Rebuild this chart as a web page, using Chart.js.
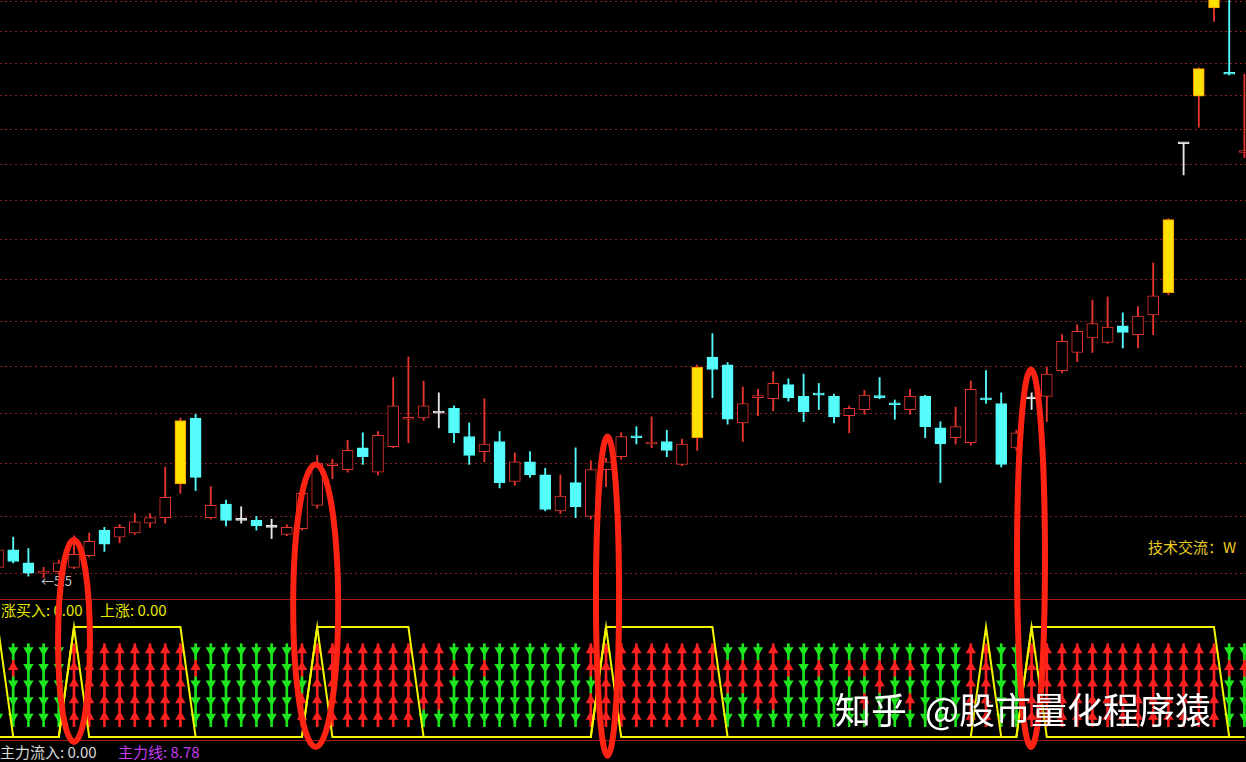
<!DOCTYPE html>
<html>
<head>
<meta charset="utf-8">
<script src="https://cdn.jsdelivr.net/npm/chart.js@4.4.1/dist/chart.umd.min.js"></script>
<style>
  html, body { margin: 0; padding: 0; background: #000; overflow: hidden; }
  #wrap { position: relative; width: 1246px; height: 762px; }
  #chartKline { position: absolute; left: 0; top: 0; z-index: 1; }
  .lbl { position: absolute; white-space: nowrap; font-family: "Noto Sans CJK SC", "Noto Sans", sans-serif;
         font-size: 15px; line-height: 15px; z-index: 0; }
  .mark { position: absolute; z-index: 2; color: #fff; white-space: nowrap;
          font-family: "Noto Sans CJK SC", sans-serif; font-size: 36px; line-height: 36px;
          text-shadow: 0 0 2px rgba(0,0,0,0.7); }
</style>
</head>
<body>
<div id="wrap">
  <div class="lbl" style="left:1px;top:602px;color:#e6e600">涨买入: 0.00</div>
  <div class="lbl" style="left:100px;top:602px;color:#e6e600">上涨: 0.00</div>
  <div class="lbl" style="left:0px;top:744px;color:#d8d8d8">主力流入: 0.00</div>
  <div class="lbl" style="left:118px;top:744px;color:#c63cf0">主力线: 8.78</div>
  <div class="lbl" style="left:1148px;top:539px;color:#e8cc22">技术交流：W</div>
  <div class="lbl" style="left:41px;top:573px;color:#bdbdbd;font-size:13px">←5.5</div>
  <canvas id="chartKline" width="1246" height="762"></canvas>
  <div class="mark" style="left:835px;top:690px">知乎</div>
  <div class="mark" style="left:925px;top:690px">@股市量化程序猿</div>
</div>
<script>
// daily prices, one entry per bar
const openPrice = [5.64,5.76,5.67,5.60,5.61,5.64,5.72,5.90,5.85,5.88,
    5.95,5.99,6.24,6.76,5.99,6.09,5.97,5.97,5.92,5.87,
    5.91,6.08,6.38,6.35,6.52,6.33,6.53,6.75,6.76,6.80,
    6.84,6.61,6.49,6.57,6.26,6.41,6.31,6.04,6.25,6.00,
    6.35,6.45,6.61,6.55,6.57,6.39,6.60,7.28,7.21,6.72,
    6.93,6.92,7.04,6.94,6.96,6.94,6.78,6.83,6.94,6.88,
    6.83,6.94,6.68,6.60,6.56,6.92,6.88,6.52,6.92,6.94,
    7.16,7.32,7.45,7.41,7.56,7.48,7.66,7.87,9.43,9.99,
    11.12,10.27,9.33];
const highPrice = [5.79,5.85,5.77,5.64,5.69,5.86,5.88,5.92,5.94,6.02,
    6.02,6.37,6.76,6.79,6.22,6.12,6.07,6.00,5.98,5.94,
    6.19,6.46,6.43,6.58,6.64,6.65,7.10,7.28,7.07,6.97,
    6.86,6.72,6.92,6.65,6.48,6.49,6.36,6.31,6.52,6.42,
    6.44,6.64,6.69,6.77,6.66,6.59,7.21,7.49,7.23,7.02,
    7.00,7.15,7.09,7.13,7.05,6.96,6.86,6.99,7.10,6.91,
    7.00,6.95,6.73,6.85,7.07,7.16,6.97,6.66,6.97,7.19,
    7.48,7.57,7.80,7.83,7.68,7.74,8.16,8.61,9.44,10.34,
    11.36,11.60,10.26];
const lowPrice = [5.62,5.67,5.58,5.57,5.59,5.63,5.71,5.75,5.81,5.87,
    5.92,5.95,6.17,6.19,5.98,5.93,5.95,5.90,5.84,5.86,
    5.90,6.06,6.28,6.33,6.39,6.31,6.52,6.56,6.74,6.68,
    6.56,6.39,6.41,6.21,6.23,6.29,6.04,6.02,5.99,5.98,
    6.22,6.43,6.55,6.52,6.45,6.38,6.50,6.93,6.71,6.57,
    6.78,6.82,6.90,6.73,6.83,6.72,6.64,6.79,6.92,6.75,
    6.79,6.60,6.25,6.55,6.54,6.88,6.37,6.50,6.83,6.73,
    7.14,7.24,7.32,7.40,7.36,7.36,7.48,7.85,9.08,9.62,
    10.94,10.25,9.27];
const closePrice = [5.76,5.68,5.60,5.61,5.67,5.73,5.82,5.80,5.92,5.96,
    5.99,6.14,6.74,6.29,6.08,5.97,5.97,5.93,5.92,5.92,
    6.17,6.40,6.39,6.50,6.45,6.62,6.86,6.76,6.86,6.80,
    6.64,6.46,6.55,6.25,6.41,6.31,6.05,6.15,6.07,6.35,
    6.41,6.61,6.60,6.56,6.50,6.55,7.19,7.17,6.75,6.88,
    6.94,7.05,6.93,6.81,6.95,6.77,6.84,6.95,6.93,6.87,
    6.94,6.69,6.55,6.69,7.00,6.91,6.39,6.64,6.92,7.13,
    7.42,7.51,7.58,7.55,7.50,7.65,7.84,8.60,9.43,10.33,
    11.36,10.26,9.34];

// price grid lines
const gridPrice = [5.6,6.0,6.4,6.8,7.2,7.6,8.0,8.4,8.8,9.2,9.6,10.0,10.4,10.8,11.2];

// lower panel: 5 arrow slots per bar, top to bottom, R = up (red), G = down (green)
const arrowCodes = ['GRRRG','GRGGG','GGGGG','GGGGG','GGGGG','RRRRR','RRRRR','RRRRR','RRRRR','RRRRR',
    'RRRRR','RRRRR','RRRRR','GRGGG','GGGGG','GGGGG','GGGGG','GGGGG','GGGGG','GGGGG',
    'RRGRR','RRRRR','RRRRR','RRRRR','RRRRR','RRRRR','RRRRR','RRRRR','RRRRG','RRRRG',
    'GRGGG','GGGGG','GRGGG','GGGGG','GGGGG','GGGGG','GGGGG','GGGGG','GGGGG','RRGRR',
    'RRRRR','RRRRR','RRRRR','RRRRR','RRRRR','RRRRR','RRRRR','RRRRR','GRRGG','GRRGG',
    'GRRRG','RRRRG','GRGGG','GGGGG','GRGGG','GGGGG','GRGGG','GRGRG','GRRGG','GRGGG',
    'GRGRG','GGGGG','GGGGG','GGGGG','RRRRR','RRRRR','GGGGG','GGGGG','RRRRR','RRRRR',
    'RRRRR','RRRRR','RRRRR','RRRRR','RRRRR','RRRRR','RRRRR','RRRRR','RRRRR','RRRRR',
    'RRRRR','GRGGG','GRGGG'];
const arrowLevels = [5, 4, 3, 2, 1];

// 主力线 state lines (0 = off, 1 = on)
const holdLine = [1,0,0,0,0,1,1,1,1,1, 1,1,1,0,0,0,0,0,0,0, 0,1,1,1,1,1,1,1,0,0,
    0,0,0,0,0,0,0,0,0,0, 1,1,1,1,1,1,1,1,0,0, 0,0,0,0,0,0,0,0,0,0,
    0,0,0,0,0,0,0,0,1,1, 1,1,1,1,1,1,1,1,1,1, 1,0,0];
const signalLine = [0,0,0,0,0,1,0,0,0,0, 0,0,0,0,0,0,0,0,0,0, 0,1,0,0,0,0,0,0,0,0,
    0,0,0,0,0,0,0,0,0,0, 1,0,0,0,0,0,0,0,0,0, 0,0,0,0,0,0,0,0,0,0,
    0,0,0,0,0,1,0,0,1,0, 0,0,0,0,0,0,0,0,0,0, 0,0,0];

// hand-drawn red rings: bar, half width (bars), top price, bottom on the 主力线 axis
const ringBar = [5.0, 20.9, 40.1, 67.96];
const ringHalf = [1.05, 1.48, 0.76, 0.92];
const ringTop = [5.83, 6.39, 6.61, 7.17];
const ringBottom = [-0.045, -0.09, -0.17, -0.09];

const panelEdges = [1.2545, -0.0273];

const idx = openPrice.map((v, i) => i);

function candleKind(i) {
    const o = openPrice[i], c = closePrice[i];
    if (o === c) return 'flat';
    if (c < o) return 'down';
    if (i > 0 && c >= closePrice[i - 1] * 1.09) return 'limit';
    return 'up';
}
const kindFill = { flat: '#e8e8e8', down: '#54fcfc', limit: '#ffe100', up: '#000000' };
const kindBorder = { flat: '#e8e8e8', down: '#54fcfc', limit: '#ff9800', up: '#e5352e' };
const kindWick = { flat: '#e8e8e8', down: '#54fcfc', limit: '#e5352e', up: '#e5352e' };

var wickSet = {
    type: 'bar',
    data: idx.map(i => ({ x: i, y: [lowPrice[i], highPrice[i]] })),
    backgroundColor: idx.map(i => kindWick[candleKind(i)]),
    barThickness: 1.2,
    grouped: false,
    yAxisID: 'y',
    order: 5
};
var bodySet = {
    type: 'bar',
    data: idx.map(i => ({ x: i, y: [openPrice[i], closePrice[i]] })),
    backgroundColor: idx.map(i => kindFill[candleKind(i)]),
    borderColor: idx.map(i => kindBorder[candleKind(i)]),
    borderWidth: 1,
    borderSkipped: false,
    barThickness: 11,
    minBarLength: 2,
    grouped: false,
    yAxisID: 'y',
    order: 4
};

const stemData = [], stemColor = [], headData = [], headColor = [], headRot = [];
idx.forEach(i => {
    arrowLevels.forEach((lv, k) => {
        const up = arrowCodes[i][k] === 'R';
        const col = up ? '#ff2020' : '#1ee61e';
        stemData.push({ x: i, y: [lv - 0.5, lv + 0.5] });
        stemColor.push(col);
        headData.push({ x: i, y: lv + 0.1 });
        headColor.push(col);
        headRot.push(up ? 0 : 180);
    });
});
var stemSet = {
    type: 'bar', data: stemData, backgroundColor: stemColor,
    barThickness: 2, grouped: false, yAxisID: 'y2', order: 3
};
var headSet = {
    type: 'line', data: headData, showLine: false,
    pointStyle: 'triangle', pointRadius: 6, pointBorderWidth: 0,
    pointBackgroundColor: headColor, pointRotation: headRot,
    yAxisID: 'y2', order: 2
};
var holdSet = {
    type: 'line', data: idx.map(i => ({ x: i, y: holdLine[i] })),
    borderColor: '#f5f500', borderWidth: 2, pointRadius: 0, tension: 0,
    yAxisID: 'y3', order: 1
};
var signalSet = {
    type: 'line', data: idx.map(i => ({ x: i, y: signalLine[i] })),
    borderColor: '#f5f500', borderWidth: 2, pointRadius: 0, tension: 0,
    yAxisID: 'y3', order: 1
};

const ringPlugin = {
    id: 'rings',
    afterDatasetsDraw(chart) {
        const c = chart.ctx, s = chart.scales;
        c.save();
        c.strokeStyle = '#ff2314';
        c.lineWidth = 6;
        ringBar.forEach((b, n) => {
            const cx = s.x.getPixelForValue(b);
            const rx = s.x.getPixelForValue(b + ringHalf[n]) - cx;
            const top = s.y.getPixelForValue(ringTop[n]);
            const bottom = s.y3.getPixelForValue(ringBottom[n]);
            c.beginPath();
            c.ellipse(cx, (top + bottom) / 2, rx, (bottom - top) / 2, 0, 0, Math.PI * 2);
            c.stroke();
        });
        c.restore();
    }
};

const ctx = document.getElementById('chartKline').getContext('2d');
const klineChart = new Chart(ctx, {
    type: 'bar',
    data: { datasets: [wickSet, bodySet, stemSet, headSet, holdSet, signalSet] },
    options: {
        responsive: false,
        animation: false,
        devicePixelRatio: 1,
        layout: { padding: 0, autoPadding: false },
        plugins: { legend: { display: false }, tooltip: { enabled: false } },
        scales: {
            x: { type: 'linear', min: 0.1316, max: 82.105, offset: false, bounds: 'data', display: false },
            y: {
                type: 'logarithmic', position: 'left', min: 4.4531, max: 11.2272, bounds: 'data',
                afterBuildTicks: ax => { ax.ticks = gridPrice.map(v => ({ value: v })); },
                ticks: { display: false },
                grid: { color: '#8a2020', lineWidth: 1, drawTicks: false },
                border: { display: false, dash: [2, 3] }
            },
            y2: { type: 'linear', min: -1.627, max: 44.277, bounds: 'data', display: false },
            y3: {
                type: 'linear', position: 'left', min: -0.2273, max: 6.7, bounds: 'data',
                afterBuildTicks: ax => { ax.ticks = panelEdges.map(v => ({ value: v })); },
                ticks: { display: false },
                grid: { color: '#a81818', lineWidth: 1, drawTicks: false },
                border: { display: false }
            }
        }
    },
    plugins: [ringPlugin]
});
</script>
</body>
</html>
